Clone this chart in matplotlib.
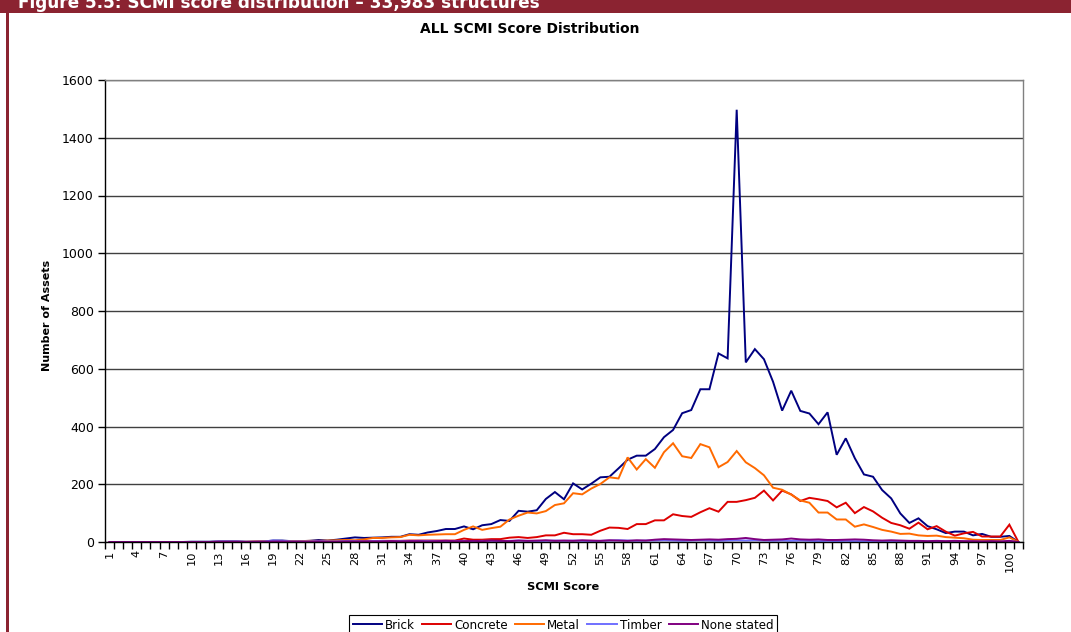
import matplotlib
matplotlib.use("Agg")
import matplotlib.pyplot as plt
from matplotlib.patches import Rectangle
from matplotlib.lines import Line2D
import numpy as np

plt.rcParams['font.family'] = ['DejaVu Sans']

# SCMI score categories 1..101
scores = list(range(1, 102))
tick_labels = [str(s) for s in range(1, 101, 3)]

brick = [0, 0, 0, 0, 0, 0, 0, 0, 0, 1,
         1, 1, 2, 2, 2, 1, 1, 2, 5, 5,
         3, 3, 4, 7, 5, 8, 12, 16, 14, 15,
         16, 18, 18, 27, 25, 33, 38, 45, 45, 54,
         44, 58, 62, 76, 73, 108, 105, 110, 149, 173,
         148, 203, 182, 202, 224, 226, 255, 285, 299, 299,
         322, 363, 388, 446, 457, 529, 529, 653, 636, 1497,
         622, 668, 633, 555, 455, 524, 454, 445, 408, 449,
         302, 359, 290, 234, 226, 180, 151, 99, 66, 82,
         55, 44, 31, 36, 36, 23, 28, 18, 18, 21, 0]

concrete = [0, 0, 0, 0, 0, 0, 0, 0, 0, 0,
            0, 0, 0, 0, 0, 0, 0, 0, 1, 1,
            1, 1, 1, 2, 2, 2, 2, 3, 3, 3,
            4, 4, 4, 5, 5, 5, 5, 5, 5, 12,
            8, 8, 10, 10, 15, 17, 14, 17, 23, 23,
            32, 27, 27, 25, 39, 50, 49, 45, 62, 62,
            75, 75, 96, 90, 87, 103, 117, 105, 139, 139,
            145, 153, 178, 144, 178, 165, 142, 153, 148, 142,
            120, 136, 100, 121, 106, 84, 66, 58, 46, 67,
            44, 55, 36, 22, 30, 35, 19, 19, 19, 60, 0]

metal = [0, 0, 0, 0, 0, 0, 0, 0, 0, 0,
         0, 0, 1, 1, 1, 1, 2, 3, 3, 3,
         3, 3, 4, 4, 5, 6, 7, 6, 9, 14,
         14, 16, 17, 25, 23, 25, 26, 27, 27, 42,
         54, 42, 48, 53, 78, 91, 102, 99, 107, 128,
         134, 169, 165, 185, 201, 224, 220, 293, 251, 287,
         257, 311, 342, 297, 291, 339, 328, 259, 277, 315,
         276, 256, 231, 188, 181, 164, 144, 136, 102, 102,
         78, 78, 53, 61, 52, 42, 36, 28, 29, 23,
         21, 22, 17, 15, 13, 8, 7, 7, 7, 16, 0]

timber = [0, 0, 0, 0, 0, 0, 0, 0, 0, 0,
          0, 0, 2, 2, 2, 1, 1, 2, 5, 4,
          2, 2, 2, 3, 2, 2, 3, 3, 2, 3,
          3, 2, 3, 3, 4, 3, 3, 4, 3, 4,
          3, 4, 4, 3, 4, 5, 4, 3, 4, 5,
          4, 5, 4, 3, 4, 5, 6, 5, 4, 5,
          5, 6, 5, 4, 5, 6, 5, 4, 5, 6,
          5, 6, 5, 4, 5, 4, 5, 4, 3, 4,
          3, 4, 3, 3, 2, 3, 2, 2, 3, 2,
          2, 1, 2, 1, 2, 1, 1, 1, 1, 2, 0]

none_stated = [0, 0, 0, 0, 0, 0, 0, 0, 0, 0,
               0, 0, 1, 1, 1, 0, 1, 1, 2, 2,
               1, 1, 1, 2, 1, 1, 2, 2, 2, 2,
               2, 3, 2, 3, 3, 2, 3, 4, 3, 3,
               4, 3, 5, 4, 3, 5, 4, 5, 6, 4,
               5, 4, 6, 5, 4, 6, 5, 4, 6, 5,
               8, 10, 9, 8, 7, 8, 9, 8, 10, 11,
               14, 10, 7, 8, 9, 12, 9, 8, 9, 7,
               7, 8, 9, 8, 6, 5, 6, 5, 4, 4,
               3, 4, 3, 4, 3, 3, 2, 3, 2, 4, 0]

series = [("Brick", brick, "#000080"),
          ("Concrete", concrete, "#DD0000"),
          ("Metal", metal, "#FF6A00"),
          ("Timber", timber, "#7070FF"),
          ("None stated", none_stated, "#800080")]

W, H = 1071, 632
fig = plt.figure(figsize=(W / 100, H / 100), dpi=100)
fig.patch.set_facecolor("white")

# page frame: header band and left rule
fig.patches.append(Rectangle((0, 1 - 13 / H), 1, 13 / H, transform=fig.transFigure,
                             facecolor="#8B2331", edgecolor="none", zorder=0))
fig.patches.append(Rectangle((6 / W, 0), 3 / W, 1, transform=fig.transFigure,
                             facecolor="#8B2331", edgecolor="none", zorder=0))
fig.text(18 / W, 1 - 8 / H, "Figure 5.5: SCMI score distribution \u2013 33,983 structures",
         color="white", fontsize=12.2, fontweight="bold", ha="left", va="baseline")

left, right, top, bottom = 105, 1023, 80, 542
ax = fig.add_axes([left / W, 1 - bottom / H, (right - left) / W, (bottom - top) / H])

x = np.array(scores)
for name, vals, col in series:
    ax.plot(x, vals, color=col, lw=1.4, label=name, solid_joinstyle="miter")

ax.set_xlim(0.5, 101.5)
ax.set_ylim(0, 1600)
ax.set_yticks(range(0, 1601, 200))
ax.grid(axis="y", color="#404040", lw=1.0)
ax.set_axisbelow(True)

ax.set_xticks(list(range(1, 101, 3)))
ax.set_xticklabels(tick_labels, rotation=90, fontsize=8.2)
ax.set_xticks(np.arange(0.5, 102, 1.0), minor=True)
ax.tick_params(axis="x", which="major", length=0, pad=6)
ax.tick_params(axis="x", which="minor", length=5, width=1, direction="out", color="black")
ax.tick_params(axis="y", length=5, width=1, direction="out", labelsize=9, pad=3)

for s in ("top", "right"):
    ax.spines[s].set_color("#808080")
    ax.spines[s].set_linewidth(1.0)
for s in ("left", "bottom"):
    ax.spines[s].set_color("black")
    ax.spines[s].set_linewidth(1.0)

fig.text(530 / W, 1 - 29 / H, "ALL SCMI Score Distribution", ha="center", va="center",
         fontsize=10, fontweight="bold")
fig.text(563 / W, 1 - 587 / H, "SCMI Score", ha="center", va="center",
         fontsize=8.2, fontweight="bold")
fig.text(47 / W, 1 - 315 / H, "Number of Assets", ha="center", va="center",
         rotation=90, fontsize=8, fontweight="bold")

handles = [Line2D([0], [0], color=c, lw=1.4) for _, _, c in series]
leg = fig.legend(handles, [n for n, _, _ in series], loc="upper center",
                 bbox_to_anchor=(563 / W, 1 - 615 / H), ncol=5, fontsize=8.6,
                 frameon=True, fancybox=False, edgecolor="black", framealpha=1,
                 handlelength=2.45, handletextpad=0.25, columnspacing=0.6,
                 borderpad=0.3, borderaxespad=0)
leg.get_frame().set_linewidth(0.8)

fig.savefig("out.png", dpi=100)
